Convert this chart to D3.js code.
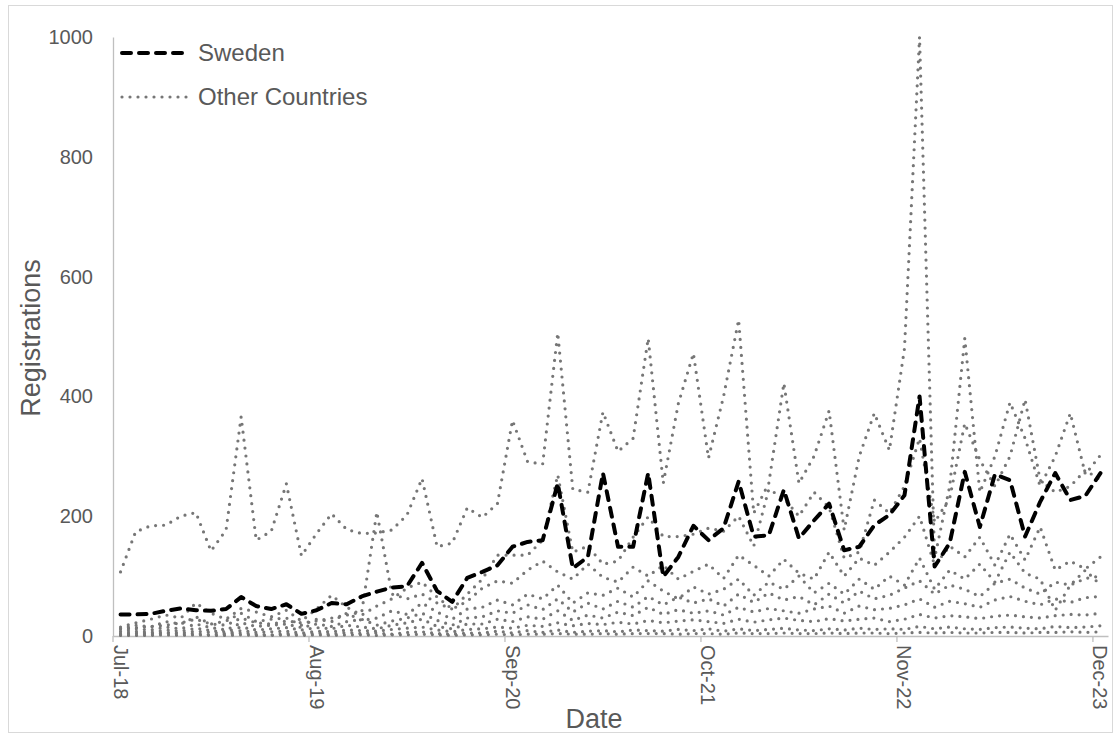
<!DOCTYPE html>
<html>
<head>
<meta charset="utf-8">
<script src="https://cdn.jsdelivr.net/npm/d3@7"></script>
<style>
  body { margin: 0; background: #fff; }
  svg { display: block; }
  text { font-family: "Liberation Sans", Arial, sans-serif; }
</style>
</head>
<body>
<svg id="chart" width="1118" height="735"></svg>
<script>
// Monthly categories, Jul-18 .. Dec-23
const months = [
  "Jul-18","Aug-18","Sep-18","Oct-18","Nov-18","Dec-18",
  "Jan-19","Feb-19","Mar-19","Apr-19","May-19","Jun-19","Jul-19","Aug-19","Sep-19","Oct-19","Nov-19","Dec-19",
  "Jan-20","Feb-20","Mar-20","Apr-20","May-20","Jun-20","Jul-20","Aug-20","Sep-20","Oct-20","Nov-20","Dec-20",
  "Jan-21","Feb-21","Mar-21","Apr-21","May-21","Jun-21","Jul-21","Aug-21","Sep-21","Oct-21","Nov-21","Dec-21",
  "Jan-22","Feb-22","Mar-22","Apr-22","May-22","Jun-22","Jul-22","Aug-22","Sep-22","Oct-22","Nov-22","Dec-22",
  "Jan-23","Feb-23","Mar-23","Apr-23","May-23","Jun-23","Jul-23","Aug-23","Sep-23","Oct-23","Nov-23","Dec-23"
];
const tickLabels = ["Jul-18","Aug-19","Sep-20","Oct-21","Nov-22","Dec-23"];
const yTicks = [0, 200, 400, 600, 800, 1000];

// Registrations per month
const sweden = [
  36,36,37,42,46,43,42,45,65,50,45,53,
  37,43,55,53,66,74,81,83,122,75,57,97,
  107,118,149,157,160,255,113,132,272,149,149,272,
  99,132,184,160,180,258,166,168,244,163,193,221,
  143,149,185,202,235,400,116,155,274,182,270,260,
  166,224,272,227,234,272
];

const other1 = [
  107,174,184,185,200,206,142,177,366,160,175,254,
  134,171,204,178,171,172,177,202,263,149,155,214,
  198,221,360,291,287,506,245,240,374,308,330,497,
  255,388,472,297,400,528,205,255,422,255,300,376,
  177,300,372,310,480,1000,130,250,497,240,300,390,
  330,250,300,372,270,302
];
const other2 = [
  12,14,16,18,22,28,20,18,30,22,20,25,
  22,25,30,35,40,207,70,62,70,55,45,70,
  95,135,135,135,160,269,140,150,120,125,165,199,
  166,166,170,180,175,200,150,245,230,200,240,215,
  130,140,227,205,250,330,190,230,355,294,250,300,
  395,260,240,250,277,260
];
const other3 = [
  15,22,28,35,30,55,38,28,46,40,32,43,
  25,45,68,48,35,50,62,80,90,65,45,58,
  80,92,88,110,125,107,95,120,98,90,115,100,
  118,95,108,120,96,135,118,100,128,105,95,140,
  100,130,118,140,165,200,118,150,132,165,118,170,
  127,182,110,125,112,132
];
const other4 = [
  12,18,15,24,20,32,20,25,38,24,28,30,
  18,28,24,38,26,30,42,36,55,40,28,45,
  48,60,52,70,62,85,55,72,68,80,65,92,
  75,62,82,70,78,95,68,90,78,100,72,88,
  70,95,78,100,85,130,78,110,95,120,90,140,
  105,95,43,85,110,85
];
const other5 = [
  8,12,10,15,12,20,14,10,22,16,18,20,
  14,20,16,24,28,18,25,30,38,26,18,30,
  32,42,38,52,44,62,40,55,45,58,48,66,
  52,65,55,62,50,70,56,72,60,66,52,70,
  55,75,62,68,80,92,70,85,78,66,88,95,
  80,70,90,85,96,100
];
const other6 = [
  5,8,6,10,8,13,9,7,15,10,12,14,
  10,14,12,18,15,12,18,22,28,16,12,20,
  20,28,24,32,28,42,26,35,30,40,34,48,
  36,44,38,42,35,48,40,46,42,38,45,50,
  38,50,44,46,52,62,48,58,54,48,60,66,
  58,52,62,56,64,66
];
const other7 = [
  3,5,4,6,5,8,6,4,9,6,7,8,
  5,8,7,10,9,8,11,13,15,10,7,11,
  12,15,13,18,16,22,17,21,19,23,20,26,
  22,25,27,24,21,28,23,27,30,26,24,29,
  25,28,30,24,28,36,30,34,32,29,33,35,
  32,30,34,36,35,38
];
const other8 = [
  2,4,2,5,3,4,2,3,5,3,2,4,
  3,5,3,6,4,5,3,6,7,4,3,5,
  5,8,5,9,6,10,6,8,9,7,10,9,
  8,11,9,12,8,12,9,11,13,10,9,12,
  10,13,11,12,11,16,12,15,12,11,14,15,
  13,12,16,14,15,17
];
const other9 = [
  1,1,1,2,1,2,1,1,2,1,1,2,
  1,2,1,2,2,1,2,2,3,2,1,2,
  2,3,2,3,3,4,3,3,4,3,4,4,
  4,3,4,4,3,5,4,4,5,4,4,5,
  4,5,5,4,5,6,5,6,5,5,6,6,
  5,6,6,7,6,7
];
const otherCountries = [other1, other2, other3, other4, other5, other6, other7, other8, other9];
const legendLabels = ["Sweden", "Other Countries"];

const svg = d3.select("#chart");
const textColor = "#595959";
const axisColor = "#bfbfbf";
const dotColor = "#767676";

const plot = { left: 113, right: 1108, top: 37, bottom: 636 };

const x = d3.scaleBand().domain(months).range([plot.left, plot.right]).padding(0);
const y = d3.scaleLinear().domain([0, 1000]).range([plot.bottom, plot.top]);
const bw = x.bandwidth();
const cx = i => x(months[i]) + bw / 2;

// outer frame
svg.append("rect")
  .attr("x", 8.5).attr("y", 5.5)
  .attr("width", 1104).attr("height", 727)
  .attr("fill", "#fff").attr("stroke", "#d9d9d9").attr("stroke-width", 1);

// y axis
const yAxis = svg.append("g")
  .attr("transform", `translate(${plot.left},0)`)
  .call(d3.axisLeft(y).tickValues(yTicks).tickFormat(d3.format("d")).tickSize(0).tickPadding(20));
yAxis.select(".domain").attr("stroke", axisColor).attr("stroke-width", 1.3);
yAxis.selectAll("text")
  .attr("fill", textColor)
  .style("font-size", "20px")
  .style("font-family", '"Liberation Sans", Arial, sans-serif');

// x axis: ticks on month boundaries, labels centred on the month
const xAxis = svg.append("g")
  .attr("transform", `translate(0,${plot.bottom})`)
  .call(d3.axisBottom(x).tickValues(tickLabels).tickSize(6).tickSizeOuter(0));
xAxis.select(".domain").attr("stroke", axisColor).attr("stroke-width", 1.3);
xAxis.selectAll(".tick line")
  .attr("stroke", axisColor).attr("stroke-width", 1.3)
  .attr("x1", -bw / 2).attr("x2", -bw / 2);
xAxis.selectAll(".tick text")
  .attr("fill", textColor)
  .style("font-size", "20px")
  .style("font-family", '"Liberation Sans", Arial, sans-serif')
  .attr("x", 9).attr("y", 0).attr("dy", "0.35em")
  .attr("transform", "rotate(90)")
  .style("text-anchor", "start");

// axis titles
svg.append("text")
  .attr("transform", `translate(40,338) rotate(-90)`)
  .attr("text-anchor", "middle")
  .attr("fill", textColor)
  .style("font-size", "27px")
  .text("Registrations");
svg.append("text")
  .attr("x", 594).attr("y", 728)
  .attr("text-anchor", "middle")
  .attr("fill", textColor)
  .style("font-size", "27px")
  .text("Date");

const line = d3.line()
  .x((d, i) => cx(i))
  .y(d => y(d));

const dotStyle = sel => sel
  .attr("fill", "none")
  .attr("stroke", dotColor)
  .attr("stroke-width", 3.2)
  .attr("stroke-linecap", "round")
  .attr("stroke-linejoin", "round")
  .attr("stroke-dasharray", "0 8");

const dashStyle = sel => sel
  .attr("fill", "none")
  .attr("stroke", "#000")
  .attr("stroke-width", 4)
  .attr("stroke-linecap", "round")
  .attr("stroke-linejoin", "round")
  .attr("stroke-dasharray", "9 8");

// other countries (dotted)
svg.append("g").selectAll("path")
  .data(otherCountries)
  .join("path")
  .attr("d", line)
  .call(dotStyle);

// Sweden (dashed)
svg.append("path")
  .datum(sweden)
  .attr("d", line)
  .call(dashStyle);

// legend
const legend = svg.append("g");
const legendRows = [
  { label: legendLabels[0], y: 53, style: dashStyle },
  { label: legendLabels[1], y: 97, style: dotStyle }
];
legendRows.forEach(r => {
  legend.append("path")
    .attr("d", `M122,${r.y}H190`)
    .call(r.style);
  legend.append("text")
    .attr("x", 198).attr("y", r.y).attr("dy", "0.35em")
    .attr("fill", textColor)
    .style("font-size", "24px")
    .text(r.label);
});
</script>
</body>
</html>
